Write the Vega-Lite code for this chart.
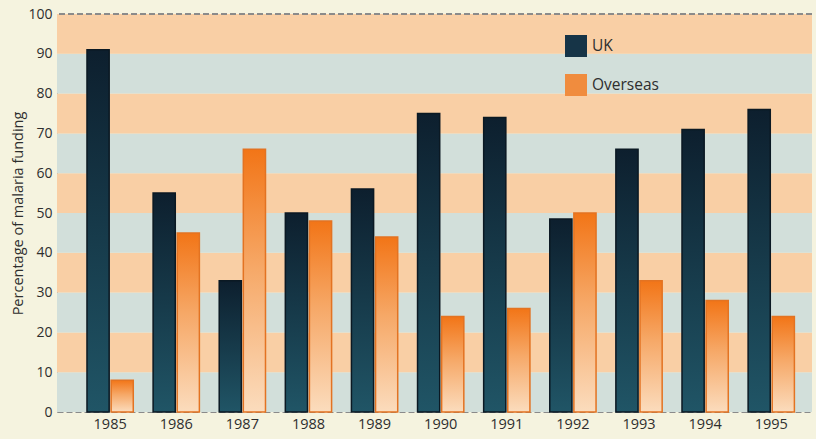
{
  "$schema": "https://vega.github.io/schema/vega-lite/v6.json",
  "width": 755,
  "height": 398,
  "autosize": {"type": "none"},
  "padding": {"left": 57, "top": 14, "right": 4, "bottom": 27},
  "background": "#f5f3df",
  "config": {
    "view": {"stroke": null},
    "font": "Open Sans",
    "axis": {"labelFont": "Open Sans", "titleFont": "Open Sans", "labelColor": "#2e2e2e", "titleColor": "#2e2e2e"},
    "axisY": {
      "title": "Percentage of malaria funding", "titleFontSize": 14.5, "titleFontWeight": "normal",
      "titlePadding": 2, "values": [0, 10, 20, 30, 40, 50, 60, 70, 80, 90, 100], "tickCount": 11,
      "labelOverlap": false, "labelFontSize": 14, "labelPadding": 5, "ticks": false, "grid": false,
      "domainDash": [6, 3], "domainColor": "#8a8a8a"
    }
  },
  "datasets": {
    "stripes": [
      {"lo": 0, "hi": 10, "kind": "blue"},
      {"lo": 10, "hi": 20, "kind": "orange"},
      {"lo": 20, "hi": 30, "kind": "blue"},
      {"lo": 30, "hi": 40, "kind": "orange"},
      {"lo": 40, "hi": 50, "kind": "blue"},
      {"lo": 50, "hi": 60, "kind": "orange"},
      {"lo": 60, "hi": 70, "kind": "blue"},
      {"lo": 70, "hi": 80, "kind": "orange"},
      {"lo": 80, "hi": 90, "kind": "blue"},
      {"lo": 90, "hi": 100, "kind": "orange"}
    ],
    "funding": [
      {"year": "1985", "series": "UK", "pct": 91},
      {"year": "1985", "series": "Overseas", "pct": 8},
      {"year": "1986", "series": "UK", "pct": 55},
      {"year": "1986", "series": "Overseas", "pct": 45},
      {"year": "1987", "series": "UK", "pct": 33},
      {"year": "1987", "series": "Overseas", "pct": 66},
      {"year": "1988", "series": "UK", "pct": 50},
      {"year": "1988", "series": "Overseas", "pct": 48},
      {"year": "1989", "series": "UK", "pct": 56},
      {"year": "1989", "series": "Overseas", "pct": 44},
      {"year": "1990", "series": "UK", "pct": 75},
      {"year": "1990", "series": "Overseas", "pct": 24},
      {"year": "1991", "series": "UK", "pct": 74},
      {"year": "1991", "series": "Overseas", "pct": 26},
      {"year": "1992", "series": "UK", "pct": 48.5},
      {"year": "1992", "series": "Overseas", "pct": 50},
      {"year": "1993", "series": "UK", "pct": 66},
      {"year": "1993", "series": "Overseas", "pct": 33},
      {"year": "1994", "series": "UK", "pct": 71},
      {"year": "1994", "series": "Overseas", "pct": 28},
      {"year": "1995", "series": "UK", "pct": 76},
      {"year": "1995", "series": "Overseas", "pct": 24}
    ]
  },
  "layer": [
    {
      "data": {"name": "stripes"},
      "mark": {"type": "rect"},
      "encoding": {
        "y": {
          "field": "lo", "type": "quantitative", "title": "Percentage of malaria funding",
          "scale": {"domain": [0, 100], "nice": false}
        },
        "y2": {"field": "hi"},
        "fill": {
          "condition": {"test": "datum.kind === 'orange'", "value": "#f9cfa5"},
          "value": "#d2dfda"
        }
      }
    },
    {
      "data": {"name": "funding"},
      "mark": {"type": "rule", "strokeDash": [6, 3], "color": "#8a8a8a", "strokeWidth": 1},
      "encoding": {
        "y": {"datum": 100, "type": "quantitative", "title": "Percentage of malaria funding"}
      }
    },
    {
      "data": {"name": "funding"},
      "mark": {"type": "bar"},
      "encoding": {
        "x": {
          "field": "year", "type": "nominal", "sort": null,
          "scale": {"paddingInner": 0.3, "paddingOuter": 0.36, "align": 0.63},
          "axis": {
            "title": null, "labelAngle": 0, "labelFontSize": 14.5, "labelPadding": 5,
            "ticks": false, "domainDash": [6, 3], "domainColor": "#8a8a8a"
          }
        },
        "xOffset": {
          "field": "series", "type": "nominal",
          "scale": {"domain": ["UK", "Overseas"], "paddingInner": 0.08, "paddingOuter": 0}
        },
        "y": {"field": "pct", "type": "quantitative", "title": "Percentage of malaria funding"},
        "color": {
          "field": "series", "type": "nominal",
          "scale": {"domain": ["UK", "Overseas"], "range": ["#163447", "#f08c3e"]},
          "legend": {
            "title": null, "orient": "none", "legendX": 508, "legendY": 21,
            "symbolType": "square", "symbolSize": 484, "symbolStrokeWidth": 0,
            "labelFont": "Open Sans", "labelFontSize": 15.5, "labelColor": "#2e2e2e", "labelOffset": 5, "rowPadding": 17
          }
        }
      }
    },
    {
      "data": {"name": "funding"},
      "mark": {"type": "bar", "strokeWidth": 1.5},
      "encoding": {
        "x": {"field": "year", "type": "nominal", "sort": null},
        "xOffset": {"field": "series", "type": "nominal"},
        "y": {"field": "pct", "type": "quantitative", "title": "Percentage of malaria funding"},
        "fill": {
          "condition": {
            "test": "datum.series === 'UK'",
            "value": {
              "gradient": "linear", "x1": 0, "y1": 0, "x2": 0, "y2": 1,
              "stops": [
                {"offset": 0, "color": "#0d1f2e"},
                {"offset": 1, "color": "#205566"}
              ]
            }
          },
          "value": {
            "gradient": "linear", "x1": 0, "y1": 0, "x2": 0, "y2": 1,
            "stops": [
              {"offset": 0, "color": "#f27517"},
              {"offset": 0.45, "color": "#f6a867"},
              {"offset": 1, "color": "#fbdcbd"}
            ]
          }
        },
        "stroke": {
          "condition": {"test": "datum.series === 'UK'", "value": "#0b1923"},
          "value": "#e37322"
        }
      }
    }
  ]
}
